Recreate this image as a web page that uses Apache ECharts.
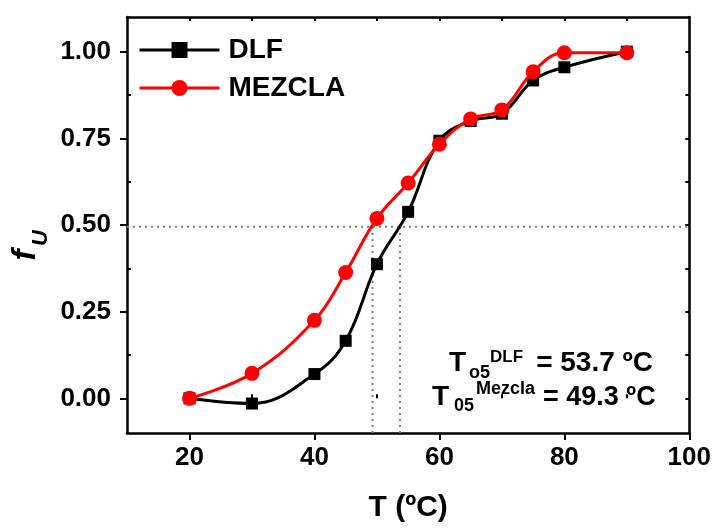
<!DOCTYPE html>
<html>
<head>
<meta charset="utf-8">
<script src="https://cdn.jsdelivr.net/npm/echarts@6/dist/echarts.min.js"></script>
<style>
html,body{margin:0;padding:0;background:#fff;}
#chart{width:714px;height:528px;}
</style>
</head>
<body>
<div id="chart"></div>
<script>
// ---- data ----
const temps = [20, 30, 40, 45, 50, 55, 60, 65, 70, 75, 80, 90];
const dlfValues = [0.00, -0.015, 0.07, 0.166, 0.387, 0.538, 0.743, 0.80, 0.821, 0.917, 0.955, 1.00];
const mezclaValues = [0.00, 0.072, 0.225, 0.363, 0.519, 0.621, 0.733, 0.806, 0.832, 0.942, 0.997, 0.997];
const xTickLabels = [20, 40, 60, 80, 100];
const xMinorTicks = [30, 50, 70, 90];
const xTopTicks = [20, 30, 40, 50, 60, 70, 80, 90];
const yTickLabels = [0, 0.25, 0.5, 0.75, 1.0];
const yMinorTicks = [0.125, 0.375, 0.625, 0.875];
const yRightTicks = [0, 0.125, 0.25, 0.375, 0.5, 0.625, 0.75, 0.875, 1.0];
const halfLevel = 0.495;
const t05Values = [53.7, 49.3];
const xRange = [10, 100];
const yRange = [-0.1, 1.1];

const FONT = '"Liberation Sans", Arial, sans-serif';
const chart = echarts.init(document.getElementById('chart'), null, {renderer: 'canvas'});

const pair = (xs, ys) => xs.map((x, i) => [x, ys[i]]);

const blankAxis = {
  axisLine: {show: false}, axisLabel: {show: false}, splitLine: {show: false}
};

const refSeries = [
  {
    name: 'ref-h', type: 'line', silent: true, symbol: 'none', z: 1,
    data: [[xRange[0], halfLevel], [xRange[1], halfLevel]],
    lineStyle: {color: '#808080', width: 2, type: [2, 4]}
  }
].concat(t05Values.map((t, i) => ({
  name: 'ref-v' + i, type: 'line', silent: true, symbol: 'none', z: 1,
  data: [[t, yRange[0]], [t, halfLevel]],
  lineStyle: {color: '#808080', width: 2, type: [2, 4]}
})));

function txt(text, x, y, size, align) {
  return {
    type: 'text', z: 100,
    style: {
      text: text, x: x, y: y, fill: '#000',
      font: 'bold ' + size + 'px ' + FONT,
      align: align || 'left', verticalAlign: 'middle'
    }
  };
}

const option = {
  backgroundColor: '#fff',
  animation: false,
  grid: {left: 127, right: 23, top: 17, bottom: 91, containLabel: false},
  legend: {
    data: ['DLF', 'MEZCLA'],
    orient: 'vertical',
    left: 133, top: 31,
    itemWidth: 80, itemHeight: 20, itemGap: 10,
    lineStyle: {width: 3},
    textStyle: {fontSize: 28, fontWeight: 'bold', fontFamily: FONT, color: '#000', padding: [0, 0, 0, 4], lineHeight: 28}
  },
  xAxis: [
    {
      type: 'value', min: xRange[0], max: xRange[1], position: 'bottom',
      axisLine: {show: true, onZero: false, lineStyle: {color: '#000', width: 2.5}},
      axisTick: {show: true, customValues: xTickLabels, length: 7, lineStyle: {color: '#000', width: 2}},
      axisLabel: {customValues: xTickLabels, fontSize: 26, fontWeight: 'bold', fontFamily: FONT, color: '#000', margin: 12},
      splitLine: {show: false},
      name: 'T (ºC)', nameLocation: 'middle', nameGap: 60,
      nameTextStyle: {fontSize: 30, fontWeight: 'bold', fontFamily: FONT, color: '#000'}
    },
    Object.assign({
      type: 'value', min: xRange[0], max: xRange[1], position: 'bottom',
      axisTick: {show: true, customValues: xMinorTicks, inside: true, length: 4, lineStyle: {color: '#000', width: 2}}
    }, blankAxis),
    {
      type: 'value', min: xRange[0], max: xRange[1], position: 'top',
      axisLine: {show: true, onZero: false, lineStyle: {color: '#000', width: 2.5}},
      axisTick: {show: true, customValues: xTopTicks, inside: true, length: 4, lineStyle: {color: '#000', width: 2}},
      axisLabel: {show: false}, splitLine: {show: false}
    }
  ],
  yAxis: [
    {
      type: 'value', min: yRange[0], max: yRange[1], position: 'left',
      axisLine: {show: true, onZero: false, lineStyle: {color: '#000', width: 2.5}},
      axisTick: {show: true, customValues: yTickLabels, length: 7, lineStyle: {color: '#000', width: 2}},
      axisLabel: {customValues: yTickLabels, fontSize: 26, fontWeight: 'bold', fontFamily: FONT, color: '#000', margin: 16,
        formatter: v => Number(v).toFixed(2)},
      splitLine: {show: false}
    },
    Object.assign({
      type: 'value', min: yRange[0], max: yRange[1], position: 'left',
      axisTick: {show: true, customValues: yMinorTicks, inside: true, length: 4, lineStyle: {color: '#000', width: 2}}
    }, blankAxis),
    {
      type: 'value', min: yRange[0], max: yRange[1], position: 'right',
      axisLine: {show: true, onZero: false, lineStyle: {color: '#000', width: 2.5}},
      axisTick: {show: true, customValues: yRightTicks, inside: true, length: 4, lineStyle: {color: '#000', width: 2}},
      axisLabel: {show: false}, splitLine: {show: false}
    }
  ],
  series: refSeries.concat([
    {
      name: 'DLF', type: 'line', z: 3,
      data: pair(temps, dlfValues),
      smooth: 0.4,
      symbol: 'rect', symbolSize: 12,
      lineStyle: {color: '#000', width: 3},
      itemStyle: {color: '#000'}
    },
    {
      name: 'MEZCLA', type: 'line', z: 4,
      data: pair(temps, mezclaValues),
      smooth: 0.4,
      symbol: 'circle', symbolSize: 15,
      lineStyle: {color: '#ff0000', width: 3},
      itemStyle: {color: '#ff0000'}
    }
  ]),
  graphic: [
    // y axis name f_U (rotated)
    {
      type: 'text', rotation: Math.PI / 2, x: 26, y: 255, z: 100,
      style: {text: 'f', font: 'italic bold 33px ' + FONT, fill: '#000', align: 'center', verticalAlign: 'middle'}
    },
    {
      type: 'text', rotation: Math.PI / 2, x: 41, y: 238, z: 100,
      style: {text: 'U', font: 'italic bold 22px ' + FONT, fill: '#000', align: 'center', verticalAlign: 'middle'}
    },
    // annotation line 1
    txt('T', 449, 363, 28),
    txt('o5', 469, 373, 18),
    txt('DLF', 490, 357, 17),
    txt('= 53.7 ºC', 653, 363, 28, 'right'),
    // annotation line 2
    txt('T', 432, 397.5, 28),
    txt('05', 454, 406.5, 18),
    txt('Mezcla', 476, 389.5, 18),
    txt('= 49.3 ºC', 543, 397.5, 27)
  ]
};
chart.setOption(option);
</script>
</body>
</html>
